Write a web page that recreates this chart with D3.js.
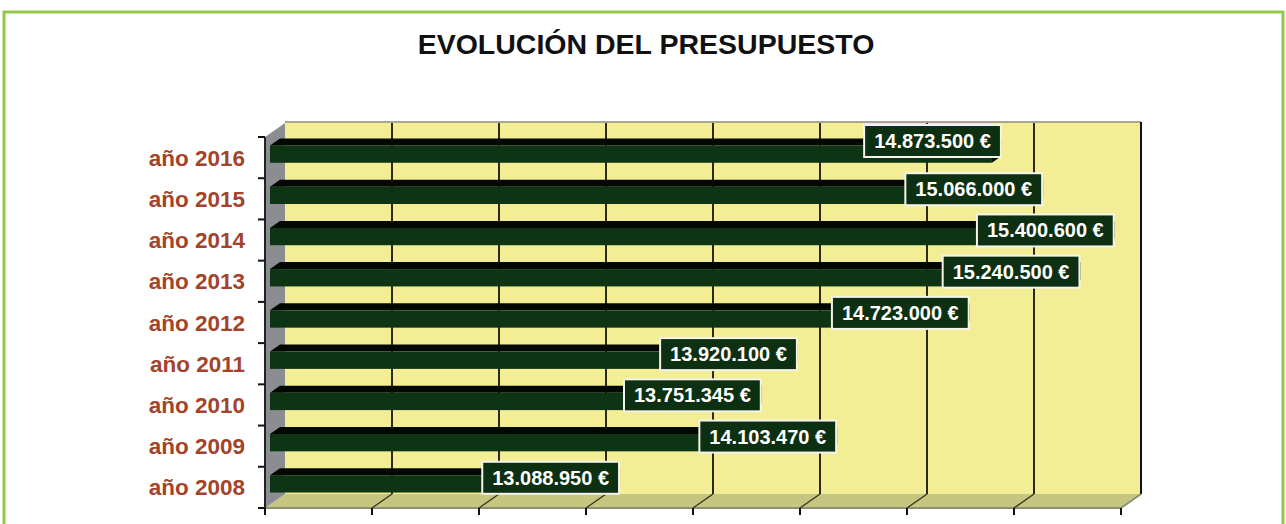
<!DOCTYPE html>
<html>
<head>
<meta charset="utf-8">
<script src="https://cdn.jsdelivr.net/npm/d3@7"></script>
<style>
  body { margin: 0; background: #fff; }
  svg { display: block; font-family: "Liberation Sans", Arial, sans-serif; }
</style>
</head>
<body>
<div id="chart"></div>
<script>
// data
const years = ["año 2016", "año 2015", "año 2014", "año 2013", "año 2012", "año 2011", "año 2010", "año 2009", "año 2008"];
const budget = [14873500, 15066000, 15400600, 15240500, 14723000, 13920100, 13751345, 14103470, 13088950];
const axisRange = [11500000, 15500000];
const title = "EVOLUCIÓN DEL PRESUPUESTO";

const W = 1286, H = 524;
// front plane of the 3d box, and the depth shift to the back wall
const X0 = 265, X1 = 1121, Y0 = 137, Y1 = 508;
const DX = 20, DY = 14;

const svg = d3.select("#chart").append("svg")
    .attr("width", W)
    .attr("height", H);

// green frame
svg.append("rect")
    .attr("x", 4).attr("y", 12)
    .attr("width", 1279).attr("height", 600)
    .attr("fill", "none")
    .attr("stroke", "#93c84a")
    .attr("stroke-width", 3);

svg.append("text")
    .attr("x", 646).attr("y", 54)
    .attr("text-anchor", "middle")
    .attr("font-size", 28.5)
    .attr("font-weight", "bold")
    .attr("fill", "#111")
    .text(title);

const x = d3.scaleLinear().domain(axisRange).range([X0, X1]);
const y = d3.scaleBand().domain(years).range([Y0, Y1]);
const ticks = x.ticks(8);

// projected point at a given depth (0 front, 1 back)
const px = (xv, d) => xv + d * DX;
const py = (yv, d) => yv - d * DY;
const pts = arr => arr.map(p => p.join(",")).join(" ");

// back wall
svg.append("rect")
    .attr("x", px(X0, 1)).attr("y", py(Y0, 1))
    .attr("width", X1 - X0).attr("height", Y1 - Y0)
    .attr("fill", "#f3ee96");
svg.append("line")
    .attr("x1", px(X0, 1)).attr("x2", px(X1, 1))
    .attr("y1", py(Y0, 1) - 1).attr("y2", py(Y0, 1) - 1)
    .attr("stroke", "#a8a890").attr("stroke-width", 2);

// floor
svg.append("polygon")
    .attr("points", pts([[X0, Y1], [X1, Y1], [px(X1, 1), py(Y1, 1)], [px(X0, 1), py(Y1, 1)]]))
    .attr("fill", "#c6c680");
svg.append("line")
    .attr("x1", X0).attr("x2", X1).attr("y1", Y1).attr("y2", Y1)
    .attr("stroke", "#8e8e70").attr("stroke-width", 2);
svg.append("line")
    .attr("x1", X1).attr("x2", px(X1, 1)).attr("y1", Y1).attr("y2", py(Y1, 1))
    .attr("stroke", "#8e8e70").attr("stroke-width", 2);

// left side wall
svg.append("polygon")
    .attr("points", pts([[X0, Y0], [px(X0, 1), py(Y0, 1)], [px(X0, 1), py(Y1, 1)], [X0, Y1]]))
    .attr("fill", "#8c8c93");

// gridlines on wall and floor
ticks.slice(1).forEach((t, i) => {
    const last = i === ticks.length - 2;
    svg.append("line")
        .attr("x1", px(x(t), 1)).attr("x2", px(x(t), 1))
        .attr("y1", py(Y0, 1) - (last ? 1 : 0)).attr("y2", py(Y1, 1))
        .attr("stroke", last ? "#111" : "#2a2a1a").attr("stroke-width", 2);
    if (!last) {
        svg.append("line")
            .attr("x1", px(x(t), 1)).attr("y1", py(Y1, 1))
            .attr("x2", x(t)).attr("y2", Y1)
            .attr("stroke", "#3a3a22").attr("stroke-width", 1.5);
    }
});

// axes
svg.append("line")
    .attr("x1", X0).attr("x2", X0).attr("y1", Y0).attr("y2", Y1)
    .attr("stroke", "#222").attr("stroke-width", 2);
const bounds = years.map(c => y(c)).concat([Y1]);
svg.selectAll(".ytick").data(bounds).enter().append("line")
    .attr("class", "ytick")
    .attr("x1", X0 - 7).attr("x2", X0)
    .attr("y1", d => d).attr("y2", d => d)
    .attr("stroke", "#111").attr("stroke-width", 2);
svg.selectAll(".xtick").data(ticks).enter().append("line")
    .attr("class", "xtick")
    .attr("x1", d => x(d)).attr("x2", d => x(d))
    .attr("y1", Y1).attr("y2", Y1 + 7)
    .attr("stroke", "#111").attr("stroke-width", 2);

// category labels
svg.selectAll(".cat").data(years).enter().append("text")
    .attr("class", "cat")
    .attr("x", 245)
    .attr("y", d => y(d) + y.bandwidth() / 2 + 8)
    .attr("text-anchor", "end")
    .attr("font-size", 22.5)
    .attr("font-weight", "bold")
    .attr("fill", "#a4432a")
    .text(d => d);

// 3d bars, sitting between depth .25 and .75
const barH = y.bandwidth() * 0.42;
const dF = 0.25, dB = 0.75;
const bars = svg.selectAll(".bar").data(years).enter().append("g").attr("class", "bar");
bars.each(function(c, i) {
    const g = d3.select(this);
    const top = y(c) + (y.bandwidth() - barH) / 2;
    const bot = top + barH;
    const xs = x(axisRange[0]), xe = x(budget[i]);
    g.append("polygon")
        .attr("points", pts([[px(xs, dF), py(top, dF)], [px(xe, dF), py(top, dF)], [px(xe, dB), py(top, dB)], [px(xs, dB), py(top, dB)]]))
        .attr("fill", "#030803");
    g.append("polygon")
        .attr("points", pts([[px(xe, dF), py(top, dF)], [px(xe, dB), py(top, dB)], [px(xe, dB), py(bot, dB)], [px(xe, dF), py(bot, dF)]]))
        .attr("fill", "#061206");
    g.append("rect")
        .attr("x", px(xs, dF)).attr("y", py(top, dF))
        .attr("width", xe - xs).attr("height", barH)
        .attr("fill", "#0d3513");
});

// value labels
const fmt = v => d3.format(",d")(v).replace(/,/g, ".") + " €";
const labels = svg.selectAll(".lbl").data(years).enter().append("g").attr("class", "lbl");
labels.each(function(c, i) {
    const g = d3.select(this);
    const t = g.append("text")
        .attr("font-size", 20)
        .attr("font-weight", "bold")
        .attr("fill", "#fff")
        .text(fmt(budget[i]));
    const tw = t.node().getComputedTextLength();
    const bw = tw + 20, bh = 32;
    const right = px(x(budget[i]), dB) - 1;
    const cy = y(c) + (i === 0 ? 4 : 11);
    g.insert("rect", "text")
        .attr("x", right - bw).attr("y", cy - bh / 2)
        .attr("width", bw).attr("height", bh)
        .attr("fill", "#0c3011")
        .attr("stroke", "#f4f4ea").attr("stroke-width", 2);
    t.attr("x", right - bw / 2).attr("y", cy + 7)
        .attr("text-anchor", "middle");
});
</script>
</body>
</html>
